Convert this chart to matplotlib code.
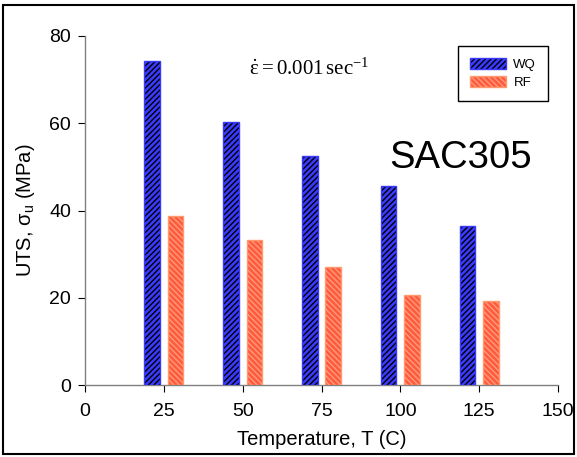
import matplotlib
matplotlib.use("Agg")
import matplotlib.pyplot as plt
from matplotlib.patches import Rectangle
import numpy as np

plt.rcParams['font.family'] = ['Liberation Sans', 'DejaVu Sans']
plt.rcParams['mathtext.fontset'] = 'custom'
plt.rcParams['mathtext.rm'] = 'Liberation Serif'
plt.rcParams['mathtext.it'] = 'Liberation Serif'
plt.rcParams['mathtext.bf'] = 'Liberation Serif:bold'
plt.rcParams['hatch.linewidth'] = 1.0

temps = [25, 50, 75, 100, 125]
wq = [74.3, 60.3, 52.6, 45.6, 36.4]
rf = [38.7, 33.2, 27.0, 20.6, 19.3]
series_labels = ['WQ', 'RF']
xticks = [0, 25, 50, 75, 100, 125, 150]
yticks = [0, 20, 40, 60, 80]

W, H = 577, 457
fig = plt.figure(figsize=(W/100, H/100), dpi=100)
ax = fig.add_axes([85/W, 1-385/H, (558-85)/W, (385-36)/H])

t = np.array(temps, dtype=float)
b1 = ax.bar(t - 3.7, wq, width=4.9, color='#3a3aff', edgecolor='#3a3aff',
            linewidth=1.0, label=series_labels[0], zorder=3)
for p in b1:
    p.set_hatch('//////')
    p._hatch_color = matplotlib.colors.to_rgba('black')
b2 = ax.bar(t + 3.7, rf, width=4.9, color='#ff5a3a', edgecolor='#ff9a70',
            linewidth=1.0, label=series_labels[1], zorder=3)
for p in b2:
    p.set_hatch('\\\\\\\\\\\\')
    p._hatch_color = matplotlib.colors.to_rgba('#ff9a80')

ax.set_xlim(0, 150)
ax.set_ylim(0, 80)
ax.set_xticks(xticks)
ax.set_yticks(yticks)
for s in ['top', 'right']:
    ax.spines[s].set_visible(False)
for s in ['left', 'bottom']:
    ax.spines[s].set_color('#808080')
    ax.spines[s].set_linewidth(1.0)
ax.tick_params(axis='both', direction='out', length=5, color='black',
               labelsize=14)
ax.tick_params(axis='x', pad=8)
ax.tick_params(axis='y', pad=5)
ax.set_xlabel('Temperature, T (C)', fontsize=14.5, labelpad=7)
ax.set_ylabel(r'UTS, $\mathregular{\sigma_u}$ (MPa)', fontsize=14.5, labelpad=9)

ax.text(71, 72.7, r'$\dot{\varepsilon} = 0.001\,\mathrm{sec}^{-1}$',
        fontsize=15, ha='center', va='center')
ax.text(119, 52, 'SAC305', fontsize=27.5, ha='center', va='center')

leg = ax.legend(loc='upper left', bbox_to_anchor=(458/W, 1-46/H),
                bbox_transform=fig.transFigure, fontsize=9.5, frameon=True,
                fancybox=False, edgecolor='black', framealpha=1,
                handlelength=2.7, handleheight=0.9, borderpad=0.9,
                labelspacing=0.4, handletextpad=0.6, borderaxespad=0)
leg.get_frame().set_linewidth(1.0)

fig.patches.append(Rectangle((3/W, 3/H), (W-6)/W, (H-8)/H,
                             transform=fig.transFigure, fill=False,
                             edgecolor='black', linewidth=1.5))

fig.savefig('out.png', dpi=100)
